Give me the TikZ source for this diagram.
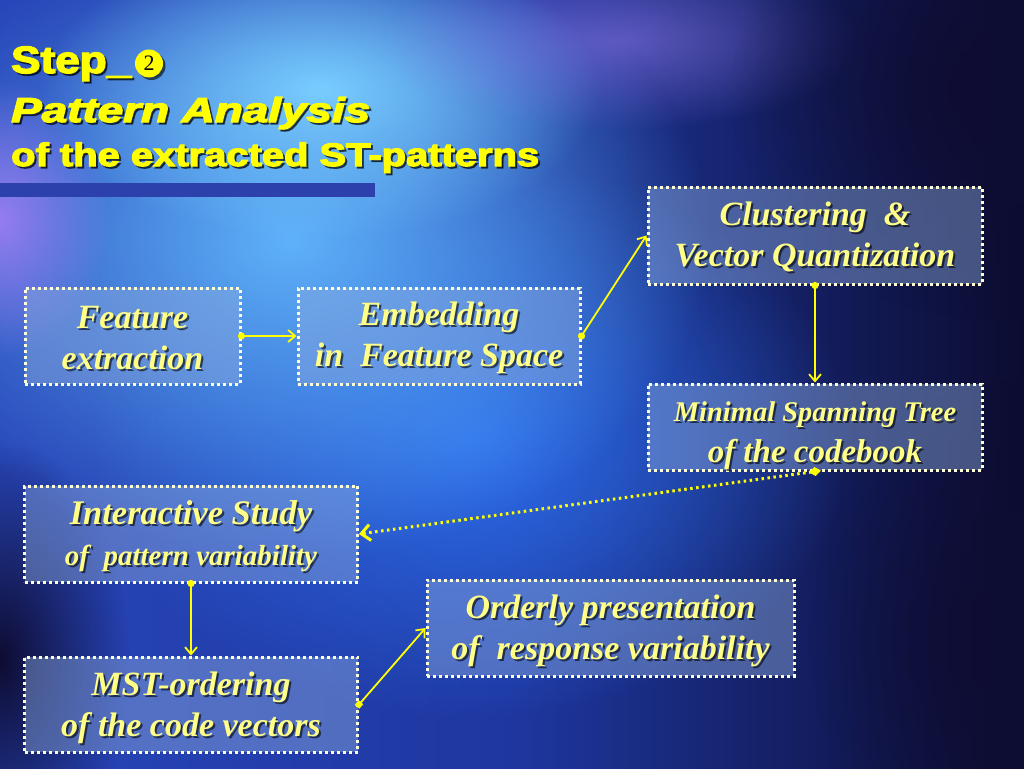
\documentclass[tikz,border=0pt]{standalone}
\usepackage{fontspec}
\setmainfont{Liberation Serif}
\newfontfamily\titlefont[FakeBold=3.5]{Liberation Sans}
\usetikzlibrary{arrows.meta,fadings,shadings}
\tikzfading[name=blobfade, inner color=transparent!0, outer color=transparent!100]
\definecolor{ylw}{RGB}{255,255,0}
\definecolor{txtyl}{RGB}{255,255,135}
\definecolor{dotc}{RGB}{255,255,215}
\definecolor{boxf}{RGB}{140,170,222}
\definecolor{bgL}{RGB}{40,70,185}
\definecolor{bgM}{RGB}{30,55,160}
\definecolor{bgR}{RGB}{12,12,48}
\definecolor{lightblob}{RGB}{95,178,250}
\definecolor{cyanblob}{RGB}{120,205,255}
\definecolor{midblob}{RGB}{45,110,235}
\definecolor{purpblob}{RGB}{150,125,240}
\definecolor{darkblob}{RGB}{14,12,50}
\definecolor{barc}{RGB}{45,65,172}
\newcommand{\ttl}[3]{\resizebox{#1pt}{#2pt}{#3}}
\newcommand{\shtext}[4]{%
  \node[#3, shadowtxt] (#1s) at ([shift={(2,2)}]#2) {#4};
  \node[#3] (#1) at (#2) {#4};}
\begin{document}
\begin{tikzpicture}[x=1pt,y=-1pt,
  box/.style={draw=dotc, line width=3pt, dash pattern=on 3pt off 3pt,
              fill=boxf, fill opacity=0.45, rectangle, inner sep=0pt},
  bt/.style={text=txtyl, align=center, inner sep=0pt,
             font=\bfseries\itshape\fontsize{34}{41}\selectfont},
  tt/.style={text=ylw, anchor=base west, inner sep=0pt, font=\titlefont\bfseries},
  shadowtxt/.style={text=black, text opacity=0.6},
  conn/.style={draw=ylw, line width=1.8pt, shorten <=-3.5pt,
               {Circle[length=7pt]}-{Straight Barb[length=7pt,width=12pt]}},
]
\useasboundingbox (0,0) rectangle (1024,768);
% background
\fill[left color=bgL, right color=bgR, middle color=bgM] (0,0) rectangle (1024,768);
\fill[midblob, path fading=blobfade] (470,440) ellipse (380 and 280);
\fill[lightblob, path fading=blobfade] (290,240) ellipse (420 and 320);
\fill[cyanblob, path fading=blobfade] (320,90) ellipse (280 and 150);
\fill[purpblob, path fading=blobfade] (0,220) ellipse (110 and 140);
\fill[purpblob, fill opacity=0.55, path fading=blobfade] (620,40) ellipse (240 and 90);
\fill[darkblob, path fading=blobfade] (990,90) ellipse (260 and 230);
\fill[darkblob, path fading=blobfade] (0,660) ellipse (130 and 220);
\fill[darkblob, path fading=blobfade] (1010,640) ellipse (200 and 260);
% title bar
\fill[barc] (0,183) rectangle (375,197);
% title
\shtext{t1}{11,73}{tt}{\ttl{120}{26.5}{Step\_}}
\node[circle, fill=black, fill opacity=0.6, minimum size=28pt, inner sep=0pt] (c2s) at (151.5,66) {};
\node[circle, fill=ylw, minimum size=28pt, inner sep=0pt,
      font=\fontsize{22}{22}\selectfont] (c2) at (149,63.5) {2};
\shtext{t2}{11,122}{tt}{\ttl{359}{25}{\itshape Pattern Analysis}}
\shtext{t3}{11,166}{tt}{\ttl{528}{23.5}{of the extracted ST-patterns}}
% boxes
\node[box, minimum width=215pt, minimum height=96pt] (fe) at (132.5,336) {};
\node[box, minimum width=282pt, minimum height=96pt] (em) at (439,336) {};
\node[box, minimum width=334pt, minimum height=97pt] (cl) at (815,235.5) {};
\node[box, minimum width=334pt, minimum height=86pt] (mt) at (815,427) {};
\node[box, minimum width=333pt, minimum height=96pt] (is) at (191,534) {};
\node[box, minimum width=333pt, minimum height=95pt] (mo) at (191,704.5) {};
\node[box, minimum width=367pt, minimum height=96pt] (op) at (610.5,628) {};
% box texts
\shtext{fet}{132.5,338}{bt}{Feature\\extraction}
\shtext{emt}{439,338}{bt}{Embedding\\in~ Feature Space}
\shtext{clt}{815,236.5}{bt}{Clustering~ \&\\Vector Quantization}
\shtext{mtt}{815,436}{bt}{{\fontsize{28.5}{41}\selectfont Minimal Spanning Tree}\\{\fontsize{33}{41}\selectfont of the codebook}}
\shtext{ist}{191,536}{bt}{{\fontsize{34.5}{41}\selectfont Interactive Study}\\{\fontsize{29}{41}\selectfont of~ pattern variability}}
\shtext{mot}{191,708}{bt}{MST-ordering\\of the code vectors}
\shtext{opt}{610.5,630.5}{bt}{Orderly presentation\\of~ response variability}
% connectors
\draw[conn] (fe.east) -- (em.west);
\draw[conn] (em.east) -- (cl.west);
\draw[conn] (cl.south) -- (mt.north);
\draw[draw=ylw, line width=3pt, dash pattern=on 2.5pt off 3.5pt, shorten <=-6pt,
      {Diamond[length=12pt,width=9pt]}-{Straight Barb[length=9pt,width=16pt]}]
      (mt.south) -- (is.east);
\draw[conn] (is.south) -- (mo.north);
\draw[draw=ylw, line width=1.8pt, shorten <=-3pt,
      {Square[length=6pt]}-{Straight Barb[length=7pt,width=12pt]}]
      (mo.east) -- (op.west);
\end{tikzpicture}
\end{document}
